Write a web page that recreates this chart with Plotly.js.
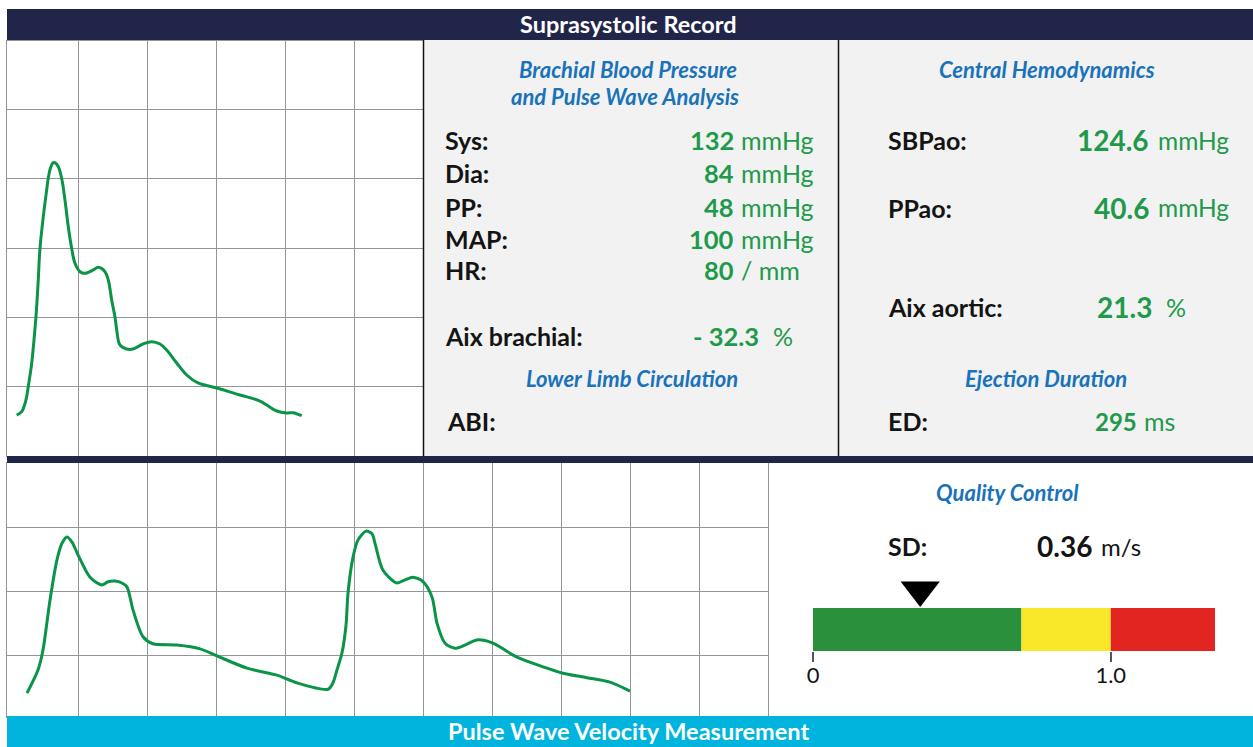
<!DOCTYPE html>
<html><head><meta charset="utf-8">
<script src="https://cdn.plot.ly/plotly-3.0.1.min.js"></script>
<style>html,body{margin:0;padding:0;background:#fff;overflow:hidden}#chart{width:1253px;height:747px}</style>
</head><body><div id="chart"></div>
<script>
// ---------------- data ----------------
const headerTitle = "Suprasystolic Record";
const footerTitle = "Pulse Wave Velocity Measurement";

const brachialLabels = ["Sys:", "Dia:", "PP:", "MAP:", "HR:"];
const brachialValues = ["132", "84", "48", "100", "80"];
const brachialUnits  = ["mmHg", "mmHg", "mmHg", "mmHg", "/ mm"];
const aixBrachialLabel = "Aix brachial:";
const aixBrachialValue = "- 32.3";
const aixBrachialUnit  = "%";
const abiLabel = "ABI:";

const centralLabels = ["SBPao:", "PPao:"];
const centralValues = ["124.6", "40.6"];
const centralUnits  = ["mmHg", "mmHg"];
const aixAorticLabel = "Aix aortic:";
const aixAorticValue = "21.3";
const aixAorticUnit  = "%";
const edLabel = "ED:";
const edValue = "295";
const edUnit  = "ms";

const sdLabel = "SD:";
const sdValue = 0.36;
const sdUnit  = "m/s";
const qcZoneStart = [0, 0.7, 1.0];
const qcZoneEnd   = [0.7, 1.0, 1.35];
const qcTickVals  = [0, 1.0];
const qcTickText  = ["0", "1.0"];

// suprasystolic waveform (grid divisions)
const supraT = [0.107,0.180,0.242,0.275,0.325,0.358,0.387,0.406,0.420,0.445,0.493,0.542,0.565,0.597,0.638,0.677,0.710,0.759,0.807,0.855,0.904,0.952,1.025,1.097,1.217,1.290,1.387,1.435,1.484,1.532,1.557,1.604,1.701,1.793,1.938,2.064,2.184,2.281,2.426,2.571,2.735,3.006,3.343,3.633,3.875,4.020,4.112,4.238];
const supraP = [0.588,0.636,0.805,0.997,1.335,1.672,2.009,2.298,2.539,2.997,3.454,3.840,4.009,4.158,4.234,4.223,4.176,4.009,3.695,3.309,2.997,2.780,2.659,2.636,2.684,2.723,2.659,2.539,2.250,2.004,1.816,1.600,1.542,1.542,1.614,1.647,1.614,1.528,1.340,1.166,1.051,0.978,0.877,0.790,0.646,0.617,0.621,0.578];

// pulse wave velocity waveform (grid divisions)
const pwvT = [0.257,0.416,0.488,0.590,0.691,0.764,0.836,0.909,0.996,1.170,1.343,1.430,1.532,1.633,1.705,1.793,1.938,2.083,2.430,2.764,3.010,3.445,3.880,4.169,4.619,4.691,4.749,4.822,4.880,4.909,4.981,5.053,5.170,5.257,5.300,5.416,5.619,5.735,5.851,5.996,6.126,6.199,6.315,6.459,6.604,6.778,7.010,7.358,7.735,8.024,8.372,8.705,8.995];
const pwvP = [0.41,0.77,1.08,1.86,2.49,2.75,2.85,2.77,2.57,2.22,2.10,2.15,2.16,2.13,2.07,1.71,1.29,1.18,1.16,1.10,0.99,0.80,0.69,0.57,0.47,0.57,0.77,1.04,1.47,1.97,2.53,2.80,2.94,2.90,2.75,2.33,2.13,2.18,2.22,2.15,1.91,1.50,1.19,1.11,1.16,1.24,1.19,0.97,0.82,0.72,0.65,0.58,0.44];

// ---------------- layout helpers ----------------
const W = 1253, H = 747;
const px = x => x / W;
const py = y => (H - y) / H;
const FONT = 'Lato, "Open Sans", sans-serif';
const NAVY = '#22254a', CYAN = '#00b4de', GRAYBG = '#f2f2f2';
const BLUE = '#1a73ba', GREEN = '#1f9a4b', BLACK = '#141414';
const WAVE = '#0a9447';
const GRID = '#959595';

function ann(text, x, y, xanchor, size, color) {
  return {xref:'paper', yref:'paper', x: px(x), y: py(y), text: text, showarrow:false,
          xanchor: xanchor, yanchor:'middle', borderpad:0,
          font:{family:FONT, size:size, color:color}};
}

const annotations = [];
annotations.push(ann('<b>'+headerTitle+'</b>', 628, 24, 'center', 23.5, '#ffffff'));
annotations.push(ann('<b>'+footerTitle+'</b>', 628, 731, 'center', 23.5, '#ffffff'));

// middle panel
annotations.push(ann('<b><i>Brachial Blood Pressure</i></b>', 628, 69, 'center', 22, BLUE));
annotations.push(ann('<b><i>and Pulse Wave Analysis</i></b>', 625, 97, 'center', 22, BLUE));
const brachialRowY = [140, 172.5, 207, 239, 270.5];
brachialLabels.forEach((l, i) => {
  annotations.push(ann('<b>'+l+'</b>', 444, brachialRowY[i], 'left', 25, BLACK));
  annotations.push(ann('<b>'+brachialValues[i]+'</b>', 735, brachialRowY[i], 'right', 25.5, GREEN));
  annotations.push(ann(brachialUnits[i], 740, brachialRowY[i], 'left', 25, GREEN));
});
annotations.push(ann('<b>'+aixBrachialLabel+'</b>', 444, 336, 'left', 25, BLACK));
annotations.push(ann('<b>'+aixBrachialValue+'</b>', 760, 336, 'right', 25.5, GREEN));
annotations.push(ann(aixBrachialUnit, 772, 336, 'left', 25, GREEN));
annotations.push(ann('<b><i>Lower Limb Circulation</i></b>', 632, 378.5, 'center', 22, BLUE));
annotations.push(ann('<b>'+abiLabel+'</b>', 446, 421, 'left', 25, BLACK));

// right panel
annotations.push(ann('<b><i>Central Hemodynamics</i></b>', 1047, 69, 'center', 22, BLUE));
const centralRowY = [140, 207.5];
centralLabels.forEach((l, i) => {
  annotations.push(ann('<b>'+l+'</b>', 887, centralRowY[i], 'left', 25, BLACK));
  annotations.push(ann('<b>'+centralValues[i]+'</b>', 1150, centralRowY[i], 'right', 28, GREEN));
  annotations.push(ann(centralUnits[i], 1157, centralRowY[i], 'left', 24.5, GREEN));
});
annotations.push(ann('<b>'+aixAorticLabel+'</b>', 887, 307, 'left', 25, BLACK));
annotations.push(ann('<b>'+aixAorticValue+'</b>', 1153, 307, 'right', 28, GREEN));
annotations.push(ann(aixAorticUnit, 1165, 307, 'left', 25, GREEN));
annotations.push(ann('<b><i>Ejection Duration</i></b>', 1046, 378.5, 'center', 22, BLUE));
annotations.push(ann('<b>'+edLabel+'</b>', 887, 421, 'left', 25, BLACK));
annotations.push(ann('<b>'+edValue+'</b>', 1138, 421, 'right', 24, GREEN));
annotations.push(ann(edUnit, 1143, 421, 'left', 25, GREEN));

// quality control
annotations.push(ann('<b><i>Quality Control</i></b>', 1007, 492.5, 'center', 22, BLUE));
annotations.push(ann('<b>'+sdLabel+'</b>', 887, 546, 'left', 25, BLACK));
annotations.push(ann('<b>'+sdValue.toFixed(2)+'</b>', 1093, 546, 'right', 28, BLACK));
annotations.push(ann(sdUnit, 1100, 546, 'left', 24, BLACK));

const shapes = [
  {type:'rect', xref:'paper', yref:'paper', x0:px(423), x1:1, y0:py(456), y1:py(40), fillcolor:GRAYBG, line:{width:0}, layer:'below'},
  {type:'rect', xref:'paper', yref:'paper', x0:px(7), x1:1, y0:py(40), y1:py(9), fillcolor:NAVY, line:{width:0}, layer:'above'},
  {type:'line', xref:'paper', yref:'paper', x0:px(423.5), x1:px(423.5), y0:py(456), y1:py(40), line:{color:'#111', width:1.5}, layer:'above'},
  {type:'line', xref:'paper', yref:'paper', x0:px(838.5), x1:px(838.5), y0:py(456), y1:py(40), line:{color:'#111', width:1.5}, layer:'above'},
  {type:'rect', xref:'paper', yref:'paper', x0:px(7), x1:1, y0:py(463), y1:py(456), fillcolor:NAVY, line:{width:0}, layer:'above'},
  {type:'rect', xref:'paper', yref:'paper', x0:px(7), x1:1, y0:0, y1:py(716), fillcolor:CYAN, line:{width:0}, layer:'above'}
];

const gridAxis = (domain, range, anchor, vals) => ({
  domain: domain, range: range, anchor: anchor, tickvals: vals, tickmode: 'array',
  showgrid: true, gridcolor: GRID, gridwidth: 1, zeroline: false,
  showline: true, mirror: true, linecolor: GRID, linewidth: 1,
  showticklabels: false, ticks: '', fixedrange: true
});

const traces = [
  {type:'scatter', mode:'lines', x: supraT, y: supraP, xaxis:'x', yaxis:'y',
   line:{color: WAVE, width: 3, shape:'spline', smoothing: 1}, hoverinfo:'skip'},
  {type:'scatter', mode:'lines', x: pwvT, y: pwvP, xaxis:'x2', yaxis:'y2',
   line:{color: WAVE, width: 3, shape:'spline', smoothing: 0.8}, hoverinfo:'skip'}
];
const qcColors = ['#2a903b', '#f9e829', '#e32522'];
qcZoneStart.forEach((s, i) => {
  traces.push({type:'bar', orientation:'h', y:[0.5], x:[qcZoneEnd[i] - s], base:[s], width:[1],
    xaxis:'x3', yaxis:'y3', marker:{color: qcColors[i], line:{width:0}}, hoverinfo:'skip'});
});
traces.push({type:'scatter', mode:'markers', x:[sdValue], y:[1.42], xaxis:'x3', yaxis:'y3',
  marker:{symbol:'triangle-down', size:34, color:'#000', line:{width:0}}, hoverinfo:'skip', cliponaxis:false});

const layout = {
  width: W, height: H, margin:{l:0, r:0, t:0, b:0},
  paper_bgcolor:'#ffffff', plot_bgcolor:'rgba(0,0,0,0)',
  showlegend:false, hovermode:false, barmode:'overlay',
  font:{family: FONT},
  xaxis: gridAxis([px(7), px(423.3)], [-0.033, 6.0], 'y', [1,2,3,4,5]),
  yaxis: gridAxis([py(455.7), py(40.5)], [0, 6], 'x', [1,2,3,4,5]),
  xaxis2: gridAxis([px(7), px(768.3)], [-0.033, 11.0], 'y2', [1,2,3,4,5,6,7,8,9,10]),
  yaxis2: gridAxis([py(717), py(463)], [0.036, 4.005], 'x2', [1,2,3]),
  xaxis3: {domain:[px(813), px(1215)], range:[0, 1.35], anchor:'y3',
    tickvals: qcTickVals, ticktext: qcTickText, ticks:'outside', ticklen:10, tickwidth:1.5, tickcolor:'#555',
    ticklabelstandoff:-5,
    showgrid:false, zeroline:false, showline:false, fixedrange:true,
    tickfont:{family:FONT, size:22, color:BLACK}},
  yaxis3: {domain:[py(651), py(576)], range:[0, 75/43], anchor:'x3', visible:false, fixedrange:true},
  shapes: shapes,
  annotations: annotations
};

Plotly.newPlot('chart', traces, layout, {displayModeBar:false, staticPlot:true});
</script>
</body></html>
